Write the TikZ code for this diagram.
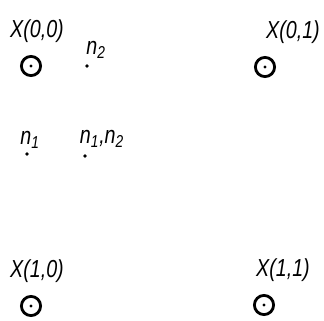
\documentclass[tikz,border=0pt]{standalone}
\usepackage{fontspec}
\newfontfamily\handfont[FakeStretch=0.8]{Liberation Sans}
\begin{document}
\begin{tikzpicture}[x=0.25mm,y=-0.25mm,
  every node/.style={font=\handfont\itshape\fontsize{17.5}{19}\selectfont,inner sep=0pt},
  ring/.style={circle,draw,line width=2pt,minimum size=4.8mm,
    path picture={\fill (path picture bounding box.center) circle (0.4mm);}},
  spot/.style={circle,fill,minimum size=0.9mm}]
\useasboundingbox (0,0) rectangle (324,320);
% corner states
\node[ring] (x00) at (31,66) {};
\node[ring] (x01) at (265,67) {};
\node[ring] (x10) at (31,306) {};
\node[ring] (x11) at (264,305) {};
\node (lx00) at (37,31) {X(0,0)};
\node (lx01) at (293,32) {X(0,1)};
\node (lx10) at (37,271) {X(1,0)};
\node (lx11) at (283,270) {X(1,1)};
% noise points
\node[spot] (n2) at (87,66) {};
\node[spot] (n1) at (27,154) {};
\node[spot] (n12) at (85,156) {};
\node (ln2) at (96,50) {n\textsubscript{2}};
\node (ln1) at (30,140) {n\textsubscript{1}};
\node (ln12) at (102,139) {n\textsubscript{1},n\textsubscript{2}};
\end{tikzpicture}
\end{document}
